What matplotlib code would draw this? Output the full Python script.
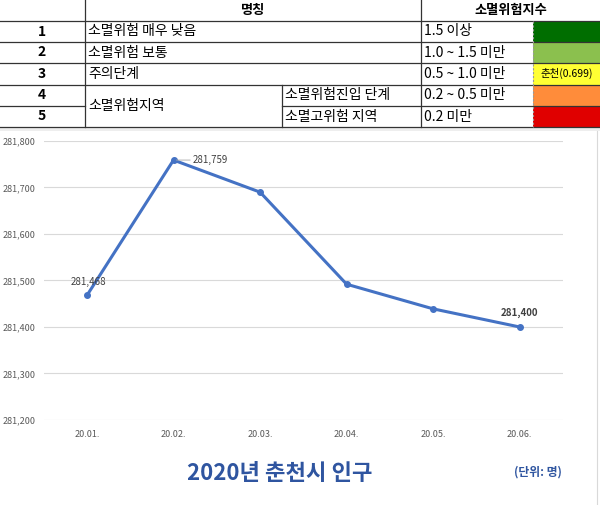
import matplotlib
matplotlib.use("Agg")
import matplotlib.pyplot as plt
from matplotlib.patches import Rectangle

plt.rcParams['font.family'] = ['Noto Sans CJK KR', 'DejaVu Sans']

# chart data
months = ['20.01.', '20.02.', '20.03.', '20.04.', '20.05.', '20.06.']
population = [281468, 281759, 281690, 281492, 281439, 281400]
labelled = {0: '281,468', 1: '281,759', 5: '281,400'}

# legend table data
row_nums = ['1', '2', '3', '4', '5']
row_names = ['소멸위험 매우 낮음', '소멸위험 보통', '주의단계', '소멸위험진입 단계', '소멸고위험 지역']
row_ranges = ['1.5 이상', '1.0 ~ 1.5 미만', '0.5 ~ 1.0 미만', '0.2 ~ 0.5 미만', '0.2 미만']
row_colors = ['#006E00', '#8BC04E', '#FFFF33', '#FF8C3A', '#E00000']
row_notes = ['', '', '춘천(0.699)', '', '']

W, H = 600, 505
fig = plt.figure(figsize=(W / 100, H / 100), dpi=100)

# ---- table drawn in pixel coords ----
tab = fig.add_axes([0, 0, 1, 1])
tab.set_xlim(0, W)
tab.set_ylim(H, 0)
tab.axis('off')

x0, x1, x2, x3, x4, x5 = 0, 85, 282, 421, 533, 600
ys = [0, 21, 42, 63, 84.5, 106, 127]
lc = '#333333'

tab.add_patch(Rectangle((0, 127), W, 4, color='#EEEEEE', lw=0))
for i, c in enumerate(row_colors):
    tab.add_patch(Rectangle((x4, ys[i + 1]), x5 - x4, ys[i + 2] - ys[i + 1], color=c, lw=0))

# horizontal rules
for y in ys[1:5] + ys[6:]:
    tab.plot([x0, x5], [y, y], color=lc, lw=0.9)
tab.plot([x0, x1], [ys[5], ys[5]], color=lc, lw=0.9)
tab.plot([x2, x5], [ys[5], ys[5]], color=lc, lw=0.9)
# vertical rules
tab.plot([x1, x1], [0, ys[6]], color=lc, lw=0.9)
tab.plot([x2, x2], [ys[4], ys[6]], color=lc, lw=0.9)
tab.plot([x3, x3], [0, ys[6]], color=lc, lw=0.9)
tab.plot([x4, x4], [ys[1], ys[6]], color='#999999', lw=0.8, ls=(0, (2, 1.5)))

fs = 10
tab.text((x1 + x3) / 2, 10, '명칭', ha='center', va='center', fontsize=9.5, fontweight='bold')
tab.text((x3 + x5) / 2, 10, '소멸위험지수', ha='center', va='center', fontsize=9.5, fontweight='bold')
for i in range(5):
    yc = (ys[i + 1] + ys[i + 2]) / 2
    tab.text(42, yc, row_nums[i], ha='center', va='center', fontsize=fs, fontweight='bold')
    nx = x1 + 3 if i < 3 else x2 + 3
    tab.text(nx, yc, row_names[i], ha='left', va='center', fontsize=fs)
    tab.text(x3 + 3, yc, row_ranges[i], ha='left', va='center', fontsize=fs)
    if row_notes[i]:
        tab.text((x4 + x5) / 2, yc, row_notes[i], ha='center', va='center', fontsize=7.5)
tab.text(x1 + 3, ys[5], '소멸위험지역', ha='left', va='center', fontsize=fs)

tab.plot([597, 597], [131, H], color='#D9D9D9', lw=0.8)

tab.text(280, 474, '2020년 춘천시 인구', ha='center', va='center', fontsize=16,
         fontweight='bold', color='#2F55A0')
tab.text(538, 472, '(단위: 명)', ha='center', va='center', fontsize=8.5,
         fontweight='bold', color='#2F55A0')

# ---- line chart ----
ax = fig.add_axes([43.7 / W, (H - 420) / H, (563 - 43.7) / W, (420 - 141) / H])
xs = range(len(months))
ax.plot(xs, population, color='#4472C4', lw=2.2, marker='o', ms=4)
ax.set_xlim(-0.5, len(months) - 0.5)
ax.set_ylim(281200, 281800)
ax.set_yticks(range(281200, 281801, 100))
ax.set_yticklabels([f'{v:,}' for v in range(281200, 281801, 100)])
ax.set_xticks(list(xs))
ax.set_xticklabels(months)
ax.tick_params(length=0, labelsize=6.5, colors='#595959')
ax.tick_params(axis='x', pad=7)
ax.tick_params(axis='y', pad=6)
ax.grid(axis='y', color='#D9D9D9', lw=0.8)
ax.set_axisbelow(True)
for s in ax.spines.values():
    s.set_visible(False)
ax.patch.set_alpha(0)

ax.annotate(labelled[0], (0, population[0]), xytext=(-11.5, 9.5), textcoords='offset points',
            fontsize=7, color='#404040', ha='left', va='center')
ax.annotate(labelled[1], (1, population[1]), xytext=(14, 0), textcoords='offset points',
            fontsize=7, color='#404040', ha='left', va='center',
            arrowprops=dict(arrowstyle='-', color='#A6A6A6', lw=0.6, shrinkA=0, shrinkB=2))
ax.annotate(labelled[5], (5, population[5]), xytext=(0, 10), textcoords='offset points',
            fontsize=7, color='#404040', ha='center', va='center', fontweight='bold')

fig.savefig('out.png', dpi=100, facecolor='white')
